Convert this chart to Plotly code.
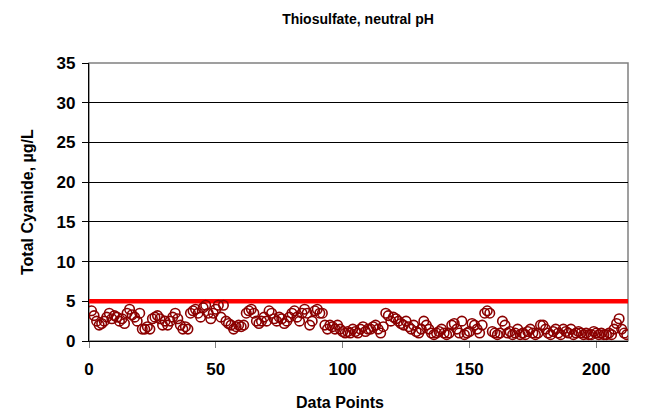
import plotly.graph_objects as go

values = [
    3.8, 3.2, 2.5, 2.0, 2.2, 2.5, 3.0, 3.5, 2.8, 3.2,
    3.0, 2.5, 2.8, 2.2, 3.5, 4.0, 3.3, 3.0, 2.5, 3.5,
    1.5, 1.5, 1.8, 1.5, 2.8, 3.0, 3.2, 2.8, 2.0, 2.5,
    2.0, 2.5, 3.0, 3.5, 2.8, 2.0, 1.5, 1.8, 1.5, 3.5,
    3.8, 4.0, 3.5, 3.0, 4.2, 4.5, 3.5, 2.8, 3.5, 4.0,
    4.5, 3.0, 4.5, 2.5, 2.2, 2.0, 1.5, 1.8, 2.0, 1.8,
    2.0, 3.5, 3.8, 4.0, 3.5, 2.5, 2.2, 2.5, 3.0, 2.5,
    3.8, 3.5, 2.8, 2.5, 3.0, 2.8, 2.2, 2.5, 3.0, 3.5,
    3.8, 3.0, 2.5, 3.5, 4.0, 3.5, 2.0, 2.5, 3.8, 4.0,
    3.5, 3.5, 2.0, 1.5, 2.0, 1.8, 1.5, 2.0, 1.5, 1.2,
    1.0, 1.2, 1.0, 1.5, 1.2, 1.0, 1.5, 1.8, 1.2, 1.5,
    1.5, 1.8, 2.0, 1.5, 1.0, 1.8, 3.5, 3.2, 2.5, 3.0,
    2.8, 2.5, 2.2, 2.0, 2.5, 1.8, 1.5, 2.0, 1.2, 1.0,
    1.5, 2.5, 2.0, 1.5, 1.0, 0.8, 1.0, 1.2, 1.5, 1.0,
    0.8, 1.0, 2.0, 2.2, 1.5, 1.0, 2.5, 0.8, 1.0, 1.2,
    2.2, 2.0, 1.5, 1.0, 2.0, 3.5, 3.8, 3.5, 1.2, 1.0,
    0.8, 1.0, 2.5, 2.0, 1.0, 1.2, 0.8, 1.0, 1.5, 0.8,
    1.0, 0.8, 1.2, 1.5, 1.0, 0.8, 1.0, 2.0, 2.0, 1.5,
    1.0, 0.8, 1.2, 1.5, 1.0, 0.8, 1.5, 1.2, 1.0, 1.5,
    0.8, 1.0, 1.2, 1.0, 0.8, 1.0, 0.8, 0.8, 1.2, 1.0,
    0.8, 1.0, 0.8, 0.8, 1.0, 0.8, 1.5, 2.2, 2.8, 1.5,
    1.0, 0.8,
]
points = list(range(1, len(values) + 1))
limit_value = 5
x_range = [0, 212.5]
y_range = [0, 35]
x_ticks = [0, 50, 100, 150, 200]
y_ticks = [0, 5, 10, 15, 20, 25, 30, 35]

font = "Liberation Sans, Arial, sans-serif"

fig = go.Figure()
fig.add_trace(go.Scatter(
    x=x_range, y=[limit_value, limit_value], mode="lines",
    line=dict(color="#ff0000", width=4.5), showlegend=False, hoverinfo="skip"))
fig.add_trace(go.Scatter(
    x=points, y=values, mode="markers",
    marker=dict(symbol="circle-open", size=9.5, color="#8b0000",
                line=dict(color="#8b0000", width=1.6)),
    showlegend=False))

fig.update_layout(
    width=645, height=418,
    margin=dict(l=89, r=17, t=63, b=77),
    paper_bgcolor="white", plot_bgcolor="white",
    font=dict(family=font, color="black"),
    title=dict(text="<b>Thiosulfate, neutral pH</b>", x=0.555, xanchor="center",
               y=0.955, yanchor="middle", font=dict(size=14, family=font)),
    xaxis=dict(range=x_range, tickvals=x_ticks, showgrid=False, zeroline=False,
               showline=True, linecolor="black", linewidth=1.2, mirror=False,
               ticks="outside", ticklen=6, tickcolor="#808080",
               ticklabelstandoff=6,
               tickfont=dict(size=17, family=font, weight="bold")),
    yaxis=dict(range=y_range, tickvals=y_ticks, showgrid=True, gridcolor="black",
               gridwidth=1, zeroline=False, showline=True, linecolor="black",
               linewidth=1.2, ticks="outside", ticklen=6, tickcolor="black",
               ticklabelstandoff=3,
               tickfont=dict(size=17, family=font, weight="bold")),
    shapes=[dict(type="rect", xref="paper", yref="paper", x0=0, x1=1, y0=0, y1=1,
                 line=dict(color="#808080", width=1.5), fillcolor="rgba(0,0,0,0)",
                 layer="below")],
    annotations=[
        dict(text="<b>Data Points</b>", xref="paper", yref="paper", x=0.465, y=-0.22,
             xanchor="center", yanchor="middle", showarrow=False,
             font=dict(size=16, family=font)),
        dict(text="<b>Total Cyanide, µg/L</b>", xref="paper", yref="paper", x=-0.115,
             y=0.5, textangle=-90, xanchor="center", yanchor="middle",
             showarrow=False, font=dict(size=16, family=font)),
    ],
)

fig.write_html("out.html")
